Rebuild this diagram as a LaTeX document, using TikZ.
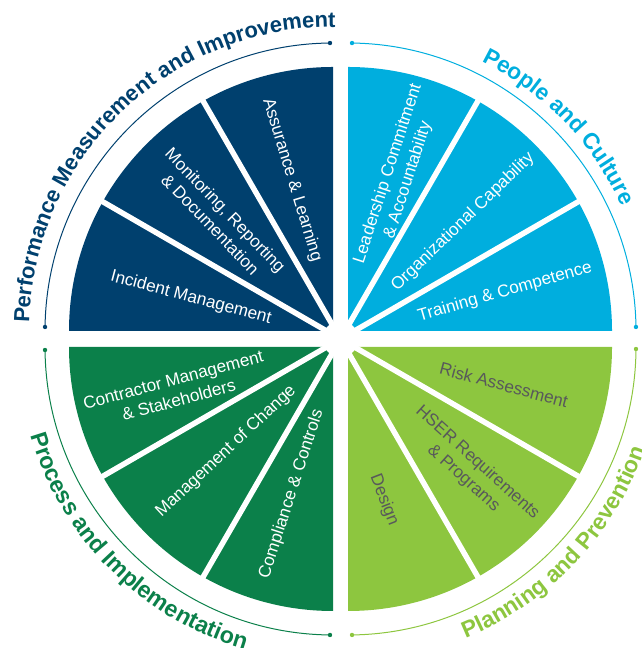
\documentclass[tikz,border=0pt]{standalone}
\usepackage{fontspec}
\setmainfont{Liberation Sans}
\usetikzlibrary{decorations.text}

\definecolor{pmiNavy}{RGB}{0,64,110}
\definecolor{pcCyan}{RGB}{0,174,222}
\definecolor{piGreen}{RGB}{11,128,74}
\definecolor{ppLime}{RGB}{141,198,63}
\definecolor{ppGrey}{RGB}{88,89,91}

\begin{document}
\begin{tikzpicture}[x=0.75pt,y=0.75pt,
  wedgelabel/.style={font=\fontsize{12.9}{15.75}\selectfont, align=center, inner sep=0.75pt},
  sepline/.style={white, line width=4.1pt},
  rimline/.style={line width=0.75pt},
  rimtitle/.style={decorate, decoration={text along path, text align=center, text={#1}}}]
\useasboundingbox (0,0) rectangle (641,648);
%Shape: Sector [Performance Measurement and Improvement]
\fill[pmiNavy] (333,317) -- ++(90:264) arc[start angle=90, end angle=180, radius=264] -- cycle;
%Shape: Sector [People and Culture]
\fill[pcCyan] (348,317) -- ++(0:264) arc[start angle=0, end angle=90, radius=264] -- cycle;
%Shape: Sector [Process and Implementation]
\fill[piGreen] (333,301) -- ++(180:264) arc[start angle=180, end angle=270, radius=264] -- cycle;
%Shape: Sector [Planning and Prevention]
\fill[ppLime] (348,301) -- ++(270:264) arc[start angle=270, end angle=360, radius=264] -- cycle;
%Straight Lines [separators]
\draw[sepline] (340.5,309) -- ++(30:280);
\draw[sepline] (340.5,309) -- ++(60:280);
\draw[sepline] (340.5,309) -- ++(120:280);
\draw[sepline] (340.5,309) -- ++(150:280);
\draw[sepline] (340.5,309) -- ++(210:280);
\draw[sepline] (340.5,309) -- ++(240:280);
\draw[sepline] (340.5,309) -- ++(300:280);
\draw[sepline] (340.5,309) -- ++(330:280);
%Shape: Circle [hub]
\fill[white] (340.5,309) circle[radius=18];

%Shape: Arc [rims]
\draw[rimline, pmiNavy] ([shift={(90.6:288)}]333,317) arc[start angle=90.6, end angle=179.2, radius=288];
\fill[pmiNavy] ([shift={(90.6:288)}]333,317) circle[radius=2.2] ([shift={(179.2:288)}]333,317) circle[radius=2.2];
\draw[rimline, pcCyan] ([shift={(0.8:288)}]348,317) arc[start angle=0.8, end angle=89.2, radius=288];
\fill[pcCyan] ([shift={(0.8:288)}]348,317) circle[radius=2.2] ([shift={(89.2:288)}]348,317) circle[radius=2.2];
\draw[rimline, piGreen] ([shift={(180.6:288)}]333,301) arc[start angle=180.6, end angle=269.4, radius=288];
\fill[piGreen] ([shift={(180.6:288)}]333,301) circle[radius=2.2] ([shift={(269.4:288)}]333,301) circle[radius=2.2];
\draw[rimline, ppLime] ([shift={(270.8:288)}]348,301) arc[start angle=270.8, end angle=359.6, radius=288];
\fill[ppLime] ([shift={(270.8:288)}]348,301) circle[radius=2.2] ([shift={(359.6:288)}]348,301) circle[radius=2.2];

%Curve Text [titles]
\path[rimtitle={|\fontsize{16.5}{16.5}\selectfont\bfseries\color{pmiNavy}|Performance Measurement and Improvement}] ([shift={(184:304)}]333,317) arc[start angle=184, end angle=84, radius=304];
\path[rimtitle={|\fontsize{17}{17}\selectfont\bfseries\color{pcCyan}|People and Culture}] ([shift={(74:301)}]348,317) arc[start angle=74, end angle=14, radius=301];
\path[rimtitle={|\fontsize{17.4}{17.4}\selectfont\bfseries\color{piGreen}|Process and Implementation}] ([shift={(185:315)}]333,301) arc[start angle=185, end angle=265, radius=315];
\path[rimtitle={|\fontsize{17.2}{17.2}\selectfont\bfseries\color{ppLime}|Planning and Prevention}] ([shift={(281.5:314)}]348,301) arc[start angle=281.5, end angle=351.5, radius=314];

% Text Nodes
\draw (292,468) node [rotate=-73] [wedgelabel, white] (assurance) {Assurance \& Learning};
\draw (218,431) node [rotate=-46] [wedgelabel, white] (monitoring) {Monitoring, Reporting\\\& Documentation};
\draw (191,350) node [rotate=-15] [wedgelabel, white] (incident) {Incident Management};
\draw (398,471) node [rotate=72] [wedgelabel, white] (leadership) {Leadership Commitment\\\& Accountability};
\draw (463,426) node [rotate=44] [wedgelabel, white] (capability) {Organizational Capability};
\draw (505,356) node [rotate=16] [wedgelabel, white] (training) {Training \& Competence};
\draw (176,258) node [rotate=15] [wedgelabel, white] (contractor) {Contractor Management\\\& Stakeholders};
\draw (226,196.5) node [rotate=43] [wedgelabel, white] (change) {Management of Change};
\draw (291.5,154) node [rotate=72] [wedgelabel, white] (compliance) {Compliance \& Controls};
\draw (504,263) node [rotate=-15] [wedgelabel, ppGrey] (risk) {Risk Assessment};
\draw (470.5,177.5) node [rotate=-42] [wedgelabel, ppGrey] (hser) {HSER Requirements\\\& Programs};
\draw (384,148) node [rotate=-69] [wedgelabel, ppGrey] (design) {Design};
\end{tikzpicture}
\end{document}
